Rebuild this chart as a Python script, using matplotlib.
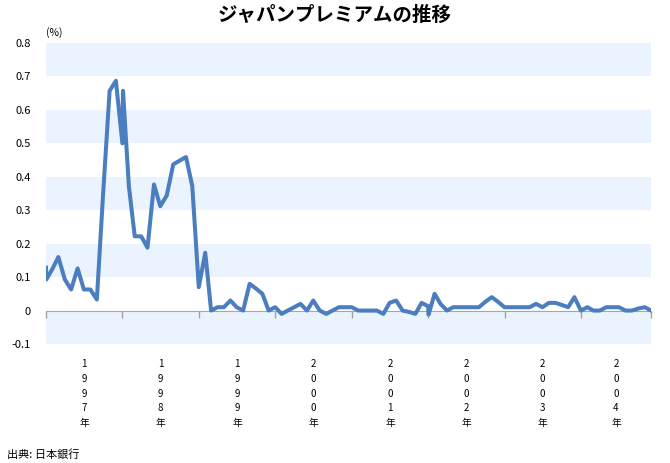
import matplotlib
matplotlib.use("Agg")
import matplotlib.pyplot as plt
import pandas as pd

plt.rcParams['font.family'] = ['Noto Sans CJK JP', 'DejaVu Sans']

# Japan premium (%), monthly Jan 1997 - Dec 2004
premium_1997 = [0.128, 0.125, 0.16, 0.093, 0.063, 0.126, 0.063, 0.063, 0.033, 0.35, 0.657, 0.687]
premium_1998 = [0.50, 0.372, 0.222, 0.222, 0.188, 0.377, 0.312, 0.344, 0.437, 0.448, 0.459, 0.372]
premium_1999 = [0.07, 0.173, 0.0, 0.01, 0.01, 0.03, 0.01, 0.0, 0.08, 0.066, 0.05, 0.0]
premium_2000 = [0.01, -0.01, 0.0, 0.01, 0.02, 0.0, 0.03, 0.0, -0.01, 0.0, 0.01, 0.01]
premium_2001 = [0.01, 0.0, 0.0, 0.0, 0.0, -0.01, 0.023, 0.03, 0.0, -0.004, -0.01, 0.023]
premium_2002 = [0.013, 0.05, 0.02, 0.0, 0.01, 0.01, 0.01, 0.01, 0.01, 0.026, 0.04, 0.026]
premium_2003 = [0.01, 0.01, 0.01, 0.01, 0.01, 0.02, 0.01, 0.023, 0.023, 0.017, 0.01, 0.04]
premium_2004 = [0.0, 0.01, 0.0, 0.0, 0.01, 0.01, 0.01, 0.0, 0.0, 0.006, 0.01, 0.0]

# a few extra readings where the line jumps inside a month
extra_dates = ["1997-01-03", "1998-01-04", "2002-01-03"]
extra_values = [0.093, 0.657, -0.012]

years = ["1997", "1998", "1999", "2000", "2001", "2002", "2003", "2004"]
yticks = [-0.1, 0, 0.1, 0.2, 0.3, 0.4, 0.5, 0.6, 0.7, 0.8]

monthly = (premium_1997 + premium_1998 + premium_1999 + premium_2000
           + premium_2001 + premium_2002 + premium_2003 + premium_2004)
dates = pd.date_range("1997-01-01", periods=len(monthly), freq="MS")
series = pd.concat([pd.Series(monthly, index=dates),
                    pd.Series(extra_values, index=pd.to_datetime(extra_dates))]).sort_index()

fig = plt.figure(figsize=(6.7, 4.63), dpi=100)
ax = fig.add_axes([46 / 670, 1 - 344 / 463, 605 / 670, 301 / 463])

band_color = '#EBF4FE'
for i in range(0, len(yticks) - 1, 2):
    ax.axhspan(yticks[i], yticks[i + 1], color=band_color, lw=0, zorder=0)

ax.plot(series.index, series.values, color='#4A7EBF', lw=2.9,
        solid_joinstyle='round', zorder=3)

ax.set_xlim(dates[0], dates[-1])
ax.set_ylim(-0.1, 0.8)
ax.set_yticks(yticks)
ax.set_yticklabels([f"{v:g}" for v in yticks], fontsize=8)
ax.tick_params(axis='y', length=0, pad=11)

year_starts = list(pd.to_datetime([y + "-01-01" for y in years]))
ax.set_xticks(year_starts + [dates[-1]])
ax.set_xticklabels([])
ax.tick_params(axis='x', direction='out', length=5, color='#A0A0A0', width=1)

for s in ['top', 'right', 'left']:
    ax.spines[s].set_visible(False)
ax.spines['bottom'].set_position(('data', 0))
ax.spines['bottom'].set_color('#A6A6A6')
ax.spines['bottom'].set_zorder(2)

# vertical year labels under the plot
edges = year_starts + [dates[-1]]
for i, y in enumerate(years):
    mid = edges[i] + (edges[i + 1] - edges[i]) / 2
    ax.text(mid, -0.145, "\n".join(list(y)) + "\n年", ha='center', va='top',
            fontsize=7, linespacing=1.6)

fig.text(0.5, 1 - 15 / 463, "ジャパンプレミアムの推移", ha='center', va='center',
         fontsize=14, fontweight='bold')
fig.text(46 / 670, 1 - 33 / 463, "(%)", ha='left', va='center', fontsize=7.5)
fig.text(7 / 670, 1 - 455 / 463, "出典: 日本銀行", ha='left', va='center', fontsize=8)

fig.savefig("out.png", dpi=100)
